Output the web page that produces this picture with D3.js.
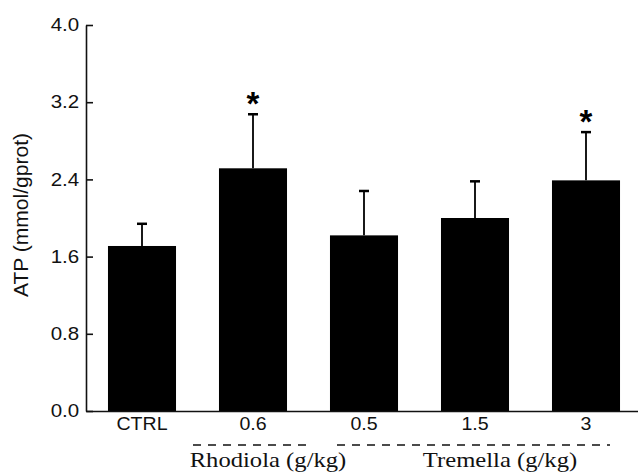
<!DOCTYPE html>
<html>
<head>
<meta charset="utf-8">
<script src="https://cdn.jsdelivr.net/npm/d3@7"></script>
<style>
html,body{margin:0;padding:0;background:#fff;}
svg{display:block;}
</style>
</head>
<body>
<svg id="chart" width="638" height="475"></svg>
<script>
const categories = ["CTRL", "0.6", "0.5", "1.5", "3"];
const means = [1.71, 2.515, 1.82, 2.00, 2.39];
const sds = [0.23, 0.56, 0.46, 0.38, 0.50];
const significance = ["", "*", "", "", "*"];
const yTicks = [0, 0.8, 1.6, 2.4, 3.2, 4.0];
const yLabel = "ATP (mmol/gprot)";
const groupLabels = ["Rhodiola (g/kg)", "Tremella (g/kg)"];

const svg = d3.select("#chart");
const sans = "Arial, 'Liberation Sans', Helvetica, sans-serif";
const serif = "'Times New Roman', 'Liberation Serif', serif";

const y = d3.scaleLinear().domain([0, 4]).range([411, 25]);
const x = d3.scaleBand().domain(categories).range([86, 642])
  .paddingInner(0.387).paddingOuter(0.198);

// bars
svg.append("g").selectAll("rect").data(categories).join("rect")
  .attr("x", d => x(d))
  .attr("y", (d, i) => y(means[i]))
  .attr("width", x.bandwidth())
  .attr("height", (d, i) => y(0) - y(means[i]))
  .attr("fill", "#000");

// error bars
const eb = svg.append("g").attr("stroke", "#000");
categories.forEach((c, i) => {
  const cx = x(c) + x.bandwidth() / 2;
  eb.append("line").attr("x1", cx).attr("x2", cx)
    .attr("y1", y(means[i])).attr("y2", y(means[i] + sds[i]))
    .attr("stroke-width", 1.8);
  eb.append("line").attr("x1", cx - 5).attr("x2", cx + 5)
    .attr("y1", y(means[i] + sds[i])).attr("y2", y(means[i] + sds[i]))
    .attr("stroke-width", 2.5);
  if (significance[i]) {
    svg.append("text").attr("x", cx).attr("y", y(means[i] + sds[i]) + 1)
      .attr("text-anchor", "middle")
      .style("font-family", sans).style("font-weight", "bold").style("font-size", "33px")
      .text(significance[i]);
  }
});

// y axis
const yAxis = d3.axisLeft(y).tickValues(yTicks).tickFormat(d3.format(".1f"))
  .tickSizeInner(-7).tickSizeOuter(0).tickPadding(6);
const gy = svg.append("g").attr("transform", "translate(86,0)").call(yAxis);
gy.select(".domain").attr("stroke", "#111").attr("stroke-width", 1.6);
gy.selectAll(".tick line").attr("stroke", "#111").attr("stroke-width", 1.6);
gy.selectAll(".tick text").style("font-family", sans).style("font-size", "18px")
  .attr("fill", "#111").attr("transform", "scale(1.14,1)");

// x axis
const xAxis = d3.axisBottom(x).tickSize(0).tickPadding(7);
const gx = svg.append("g").attr("transform", "translate(0,411)").call(xAxis);
gx.select(".domain").attr("stroke", "#111").attr("stroke-width", 1.6);
gx.selectAll(".tick text").style("font-family", sans).style("font-size", "17.5px")
  .attr("fill", "#111").attr("transform", "scale(1.12,1)");

// y label
svg.append("text")
  .attr("transform", "translate(28,215) rotate(-90) scale(1.08,1)")
  .attr("text-anchor", "middle")
  .style("font-family", sans).style("font-size", "19.5px").attr("fill", "#111")
  .text(yLabel);

// group dashed lines and labels
const c1 = x(categories[1]) + x.bandwidth() / 2;
const c2 = x(categories[2]) + x.bandwidth() / 2;
const c4 = x(categories[4]) + x.bandwidth() / 2;
const groups = [
  {x1: c1 - 60, x2: c1 + 54, tx: 268, label: groupLabels[0]},
  {x1: c2 - 27, x2: c4 + 24, tx: 500, label: groupLabels[1]}
];
groups.forEach(g => {
  svg.append("line").attr("x1", g.x1).attr("x2", g.x2).attr("y1", 445).attr("y2", 445)
    .attr("stroke", "#111").attr("stroke-width", 1.5).attr("stroke-dasharray", "8,7");
  svg.append("text").attr("x", g.tx).attr("y", 467).attr("text-anchor", "middle")
    .attr("transform", `translate(${g.tx},0) scale(1.12,1) translate(${-g.tx},0)`)
    .style("font-family", serif).style("font-size", "22px").attr("fill", "#111")
    .text(g.label);
});
</script>
</body>
</html>
